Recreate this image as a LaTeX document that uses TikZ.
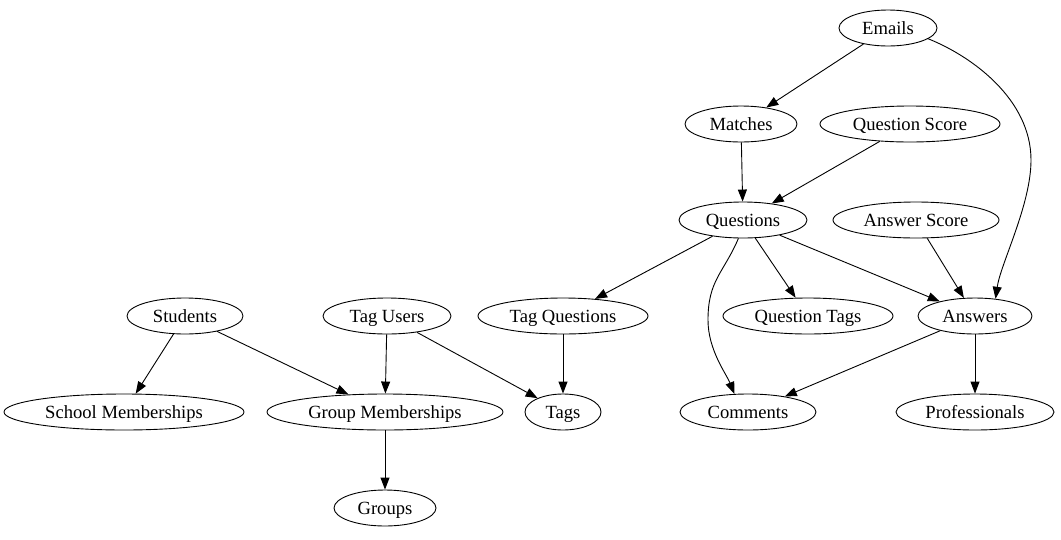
\documentclass[tikz,border=0pt]{standalone}
\usepackage{fontspec}
\setmainfont{Liberation Serif}
\usetikzlibrary{shapes.geometric,arrows.meta}
\begin{document}
\begin{tikzpicture}[x=1pt,y=-1pt,
  nd/.style={ellipse,draw,line width=0.9pt,inner sep=0pt,minimum height=36pt,text height=14pt,text depth=2pt,font=\fontsize{18.6pt}{21pt}\selectfont},
  ed/.style={line width=0.9pt,-{Triangle[length=12pt,width=9pt]}}]
\useasboundingbox (0,0) rectangle (1061,539);
\node[nd,minimum width=98pt] (emails) at (888,28) {Emails};
\node[nd,minimum width=112pt] (matches) at (741,124) {Matches};
\node[nd,minimum width=180pt] (qscore) at (910,124) {Question Score};
\node[nd,minimum width=128pt] (questions) at (743,220) {Questions};
\node[nd,minimum width=166pt] (ascore) at (916,220) {Answer Score};
\node[nd,minimum width=116pt] (students) at (185,316) {Students};
\node[nd,minimum width=128pt] (tagusers) at (387,316) {Tag Users};
\node[nd,minimum width=170pt] (tagq) at (563,316) {Tag Questions};
\node[nd,minimum width=170pt] (qtags) at (808,316) {Question Tags};
\node[nd,minimum width=114pt] (answers) at (975,316) {Answers};
\node[nd,minimum width=240pt] (school) at (124,412) {School Memberships};
\node[nd,minimum width=236pt] (groupm) at (385,412) {Group Memberships};
\node[nd,minimum width=76pt] (tags) at (563,412) {Tags};
\node[nd,minimum width=136pt] (comments) at (748,412) {Comments};
\node[nd,minimum width=158pt] (prof) at (975,412) {Professionals};
\node[nd,minimum width=102pt] (groups) at (385,508) {Groups};

\draw[ed] (emails) -- (matches);
\draw[ed] (emails.-15) .. controls +(45,18) and +(0,-60) .. (1031,160) .. controls +(0,45) and +(5,-35) .. (answers.40);
\draw[ed] (matches) -- (questions);
\draw[ed] (qscore) -- (questions);
\draw[ed] (questions) -- (tagq);
\draw[ed] (questions) -- (qtags);
\draw[ed] (questions) -- (answers);
\draw[ed] (questions.-104) .. controls +(-15,35) and +(0,-40) .. (708,320) .. controls +(0,30) and +(-8,-20) .. (comments.127);
\draw[ed] (ascore) -- (answers);
\draw[ed] (students) -- (school);
\draw[ed] (students) -- (groupm);
\draw[ed] (tagusers) -- (groupm);
\draw[ed] (tagusers) -- (tags);
\draw[ed] (tagq) -- (tags);
\draw[ed] (answers) -- (comments);
\draw[ed] (answers) -- (prof);
\draw[ed] (groupm) -- (groups);
\end{tikzpicture}
\end{document}
